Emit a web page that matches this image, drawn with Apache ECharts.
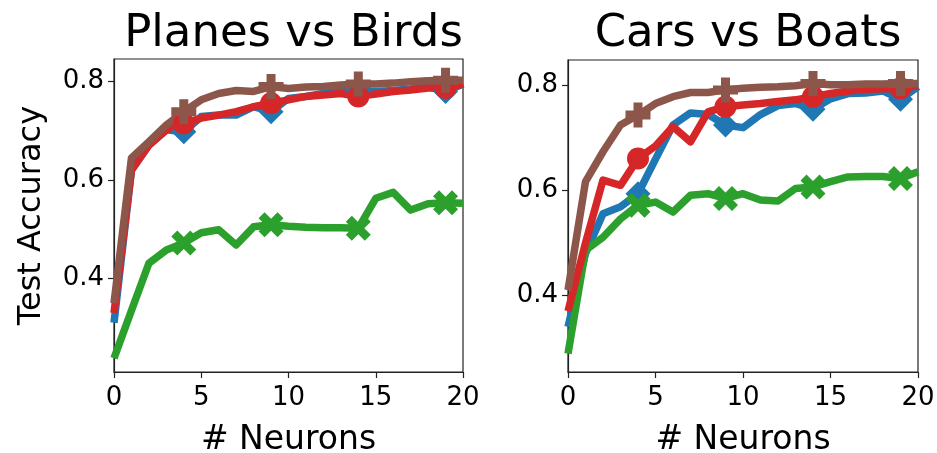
<!DOCTYPE html>
<html>
<head>
<meta charset="utf-8">
<script src="https://cdn.jsdelivr.net/npm/echarts@6/dist/echarts.min.js"></script>
<style>
  html, body { margin: 0; padding: 0; background: #fff; }
  #chart { width: 937px; height: 453px; }
</style>
</head>
<body>
<div id="chart"></div>
<script>
// Number of neurons on the x axis
const neurons = [0,1,2,3,4,5,6,7,8,9,10,11,12,13,14,15,16,17,18,19,20];
// Indexes that carry a marker
const markIdx = [4, 9, 14, 19];

const panelTitles = ['Planes vs Birds', 'Cars vs Boats'];
const yTickValues = [0.4, 0.6, 0.8];
const xTickValues = [0, 5, 10, 15, 20];

// Planes vs Birds
const pbBlue  = [0.31,0.62,0.671,0.702,0.698,0.729,0.732,0.732,0.749,0.739,0.766,0.77,0.776,0.782,0.78,0.78,0.782,0.785,0.79,0.78,0.795];
const pbGreen = [0.238,0.335,0.431,0.458,0.472,0.493,0.499,0.468,0.505,0.509,0.506,0.504,0.503,0.503,0.502,0.563,0.575,0.539,0.552,0.554,0.553];
const pbRed   = [0.33,0.62,0.671,0.702,0.715,0.726,0.732,0.739,0.749,0.756,0.763,0.77,0.773,0.776,0.77,0.775,0.78,0.783,0.787,0.787,0.795];
const pbBrown = [0.35,0.645,0.678,0.712,0.739,0.763,0.776,0.782,0.78,0.79,0.786,0.789,0.79,0.793,0.795,0.795,0.797,0.8,0.802,0.803,0.803];

// Cars vs Boats
const cbBlue  = [0.34,0.48,0.556,0.569,0.594,0.66,0.725,0.748,0.745,0.725,0.72,0.745,0.762,0.766,0.755,0.775,0.785,0.786,0.79,0.774,0.798];
const cbGreen = [0.289,0.486,0.511,0.546,0.572,0.578,0.559,0.591,0.594,0.585,0.594,0.582,0.58,0.604,0.607,0.617,0.626,0.627,0.627,0.623,0.636];
const cbRed   = [0.37,0.50,0.62,0.61,0.661,0.685,0.722,0.693,0.75,0.76,0.763,0.766,0.77,0.773,0.779,0.785,0.79,0.793,0.794,0.795,0.8];
const cbBrown = [0.41,0.617,0.674,0.725,0.744,0.766,0.779,0.787,0.787,0.792,0.795,0.797,0.798,0.8,0.804,0.802,0.802,0.803,0.803,0.804,0.804];

// Axis limits for each panel
const yLimits = [[0.21, 0.846], [0.254, 0.849]];

const colors = { blue: '#1f77b4', green: '#2ca02c', red: '#d62728', brown: '#8c564b' };

// Filled plus and filled X marker shapes
const plusPath = 'path://M3.2,0H6.8V3.2H10V6.8H6.8V10H3.2V6.8H0V3.2H3.2Z';
const xPath = 'path://M0,2.4L2.4,0L5,2.6L7.6,0L10,2.4L7.4,5L10,7.6L7.6,10L5,7.4L2.4,10L0,7.6L2.6,5Z';

const styles = [
  { key: 'blue',  symbol: 'diamond', size: 25 },
  { key: 'green', symbol: xPath,     size: 25 },
  { key: 'red',   symbol: 'circle',  size: 22 },
  { key: 'brown', symbol: plusPath,  size: 25 }
];

function makeSeries(values, style, panel) {
  return {
    type: 'line',
    xAxisIndex: panel,
    yAxisIndex: panel,
    showAllSymbol: true,
    symbol: style.symbol,
    symbolSize: style.size,
    animation: false,
    lineStyle: { color: colors[style.key], width: 7.5, join: 'round' },
    itemStyle: { color: colors[style.key], borderWidth: 0 },
    emphasis: { disabled: true },
    z: 2,
    data: values.map((v, i) => markIdx.includes(i)
      ? { value: [neurons[i], v] }
      : { value: [neurons[i], v], symbol: 'none' })
  };
}

const grids = [
  { left: 114, top: 59, width: 349, height: 313 },
  { left: 568, top: 60, width: 350, height: 312 }
];

const font = 'DejaVu Sans';

const option = {
  backgroundColor: '#ffffff',
  textStyle: { fontFamily: font },
  title: panelTitles.map((t, i) => ({
    text: t,
    left: grids[i].left + grids[i].width / 2,
    textAlign: 'center',
    top: 7,
    textStyle: { fontFamily: font, fontSize: 45, fontWeight: 'normal', color: '#000' }
  })),
  grid: grids.map(g => Object.assign({
    show: true, borderColor: '#222', borderWidth: 1.2, backgroundColor: '#fff',
    containLabel: false, outerBoundsMode: 'none'
  }, g)),
  xAxis: [0, 1].map(i => ({
    type: 'value',
    gridIndex: i,
    min: 0, max: 20, interval: 5,
    name: '# Neurons',
    nameLocation: 'middle',
    nameGap: 52,
    nameTextStyle: { fontFamily: font, fontSize: 33, color: '#000' },
    axisLine: { show: true, lineStyle: { color: '#222', width: 1.2 } },
    axisTick: { show: true, inside: false, length: 6, lineStyle: { color: '#222', width: 1.2 }, customValues: xTickValues },
    axisLabel: { show: true, margin: 13, fontFamily: font, fontSize: 26, color: '#000', customValues: xTickValues },
    splitLine: { show: false }
  })),
  yAxis: [0, 1].map(i => ({
    type: 'value',
    gridIndex: i,
    min: yLimits[i][0], max: yLimits[i][1],
    name: i === 0 ? 'Test Accuracy' : '',
    nameLocation: 'middle',
    nameGap: 66,
    nameTextStyle: { fontFamily: font, fontSize: 32, color: '#000' },
    axisLine: { show: true, lineStyle: { color: '#222', width: 1.2 } },
    axisTick: { show: true, inside: false, length: 6, lineStyle: { color: '#222', width: 1.2 }, customValues: yTickValues },
    axisLabel: { show: true, margin: 10, fontFamily: font, fontSize: 26, color: '#000', customValues: yTickValues,
                 formatter: v => v.toFixed(1) },
    splitLine: { show: false }
  })),
  series: [
    makeSeries(pbBlue, styles[0], 0),
    makeSeries(pbGreen, styles[1], 0),
    makeSeries(pbRed, styles[2], 0),
    makeSeries(pbBrown, styles[3], 0),
    makeSeries(cbBlue, styles[0], 1),
    makeSeries(cbGreen, styles[1], 1),
    makeSeries(cbRed, styles[2], 1),
    makeSeries(cbBrown, styles[3], 1)
  ]
};

const chart = echarts.init(document.getElementById('chart'), null, { renderer: 'canvas' });
chart.setOption(option);
</script>
</body>
</html>
